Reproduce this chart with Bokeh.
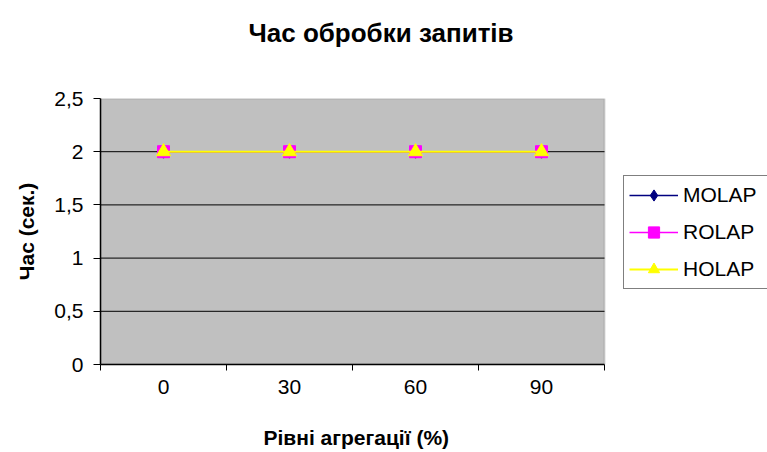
import numpy as np
from bokeh.plotting import figure
from bokeh.models import (Range1d, LinearAxis, FixedTicker, CustomJSTickFormatter,
                          Legend, Title, BoxAnnotation)
from bokeh.embed import file_html
from bokeh.resources import INLINE

# ---- data ----
levels = ["0", "30", "60", "90"]          # Рівні агрегації (%)
molap = [2, 2, 2, 2]
rolap = [2, 2, 2, 2]
holap = [2, 2, 2, 2]
y_ticks = [0, 0.5, 1, 1.5, 2, 2.5]
grid_vals = [0.5, 1, 1.5, 2]
y_max = 2.5

FONT = "Liberation Sans"

# layout: frame spans x 100..767, the grey plotting area ends at 604 px
FRAME_LEFT, AREA_RIGHT, WIDTH = 100, 604, 767
n = len(levels)
x_end = n * (WIDTH - FRAME_LEFT) / (AREA_RIGHT - FRAME_LEFT)

xs = list(np.arange(n) + 0.5)

p = figure(width=WIDTH, height=452, output_backend="svg", toolbar_location=None,
           x_range=Range1d(0, x_end), y_range=Range1d(0, y_max),
           x_axis_location=None, y_axis_location=None,
           min_border_left=FRAME_LEFT, min_border_right=0,
           min_border_top=98, min_border_bottom=88)

p.background_fill_color = "white"
p.border_fill_color = "white"
p.outline_line_color = None
p.xgrid.grid_line_color = None
p.ygrid.grid_line_color = None

# grey plotting area with its grey frame
p.add_layout(BoxAnnotation(left=0, right=n, bottom=0, top=y_max,
                           fill_color="#C0C0C0", fill_alpha=1,
                           line_color="#808080", line_width=2, level="underlay"))

# horizontal grid lines, limited to the plotting area
p.segment(x0=[0] * len(grid_vals), x1=[n] * len(grid_vals), y0=grid_vals, y1=grid_vals,
          line_color="black", line_width=1)

# y axis
yax = LinearAxis(ticker=FixedTicker(ticks=y_ticks, minor_ticks=[]),
                 formatter=CustomJSTickFormatter(code="return tick.toString().replace('.', ',')"))
yax.axis_line_color = "black"
yax.axis_line_width = 1.5
yax.major_tick_out = 7
yax.major_tick_in = 0
yax.major_tick_line_color = "black"
yax.major_label_text_font = FONT
yax.major_label_text_font_size = "21px"
yax.major_label_text_color = "black"
yax.major_label_standoff = 10
yax.axis_label = "Час (сек.)"
yax.axis_label_text_font = FONT
yax.axis_label_text_font_style = "bold"
yax.axis_label_text_font_size = "21px"
yax.axis_label_text_color = "black"
yax.axis_label_standoff = 13
p.add_layout(yax, "left")

# x axis (limited to the plotting area)
xax = LinearAxis(ticker=FixedTicker(ticks=xs, minor_ticks=list(range(n + 1))),
                 formatter=CustomJSTickFormatter(args=dict(labels=levels),
                                                 code="return labels[Math.floor(tick)]"),
                 bounds=(0, n))
xax.axis_line_color = "black"
xax.axis_line_width = 1.5
xax.major_tick_out = 0
xax.major_tick_in = 0
xax.minor_tick_out = 6
xax.minor_tick_in = 0
xax.minor_tick_line_color = "black"
xax.major_label_text_font = FONT
xax.major_label_text_font_size = "21px"
xax.major_label_text_color = "black"
xax.major_label_standoff = 9
p.add_layout(xax, "below")

# x axis title below the axis (spacer first, nearest the axis)
p.add_layout(Title(text=" ", text_font_size="1px", standoff=26), "below")
p.add_layout(Title(text="Рівні агрегації (%)", align="left", offset=163,
                   vertical_align="top", standoff=0,
                   text_font=FONT, text_font_style="bold", text_font_size="21px",
                   text_color="black"), "below")

# series
series = [("MOLAP", molap, "#000080", "diamond", 13, 1.5),
          ("ROLAP", rolap, "#FF00FF", "square", 12, 1.5),
          ("HOLAP", holap, "#FFFF00", "triangle", 14, 2)]
items = []
for name, vals, col, mk, sz, lw in series:
    r1 = p.line(xs, vals, line_color=col, line_width=lw)
    r2 = p.scatter(xs, vals, marker=mk, size=sz, fill_color=col, line_color=col)
    items.append((name, [r1, r2]))

legend = Legend(items=items, location=(523, 75))
legend.border_line_color = "black"
legend.border_line_width = 1
legend.background_fill_color = "white"
legend.background_fill_alpha = 1
legend.label_text_font = FONT
legend.label_text_font_size = "21px"
legend.label_text_color = "black"
legend.glyph_width = 49
legend.glyph_height = 28
legend.label_height = 28
legend.label_width = 90
legend.label_standoff = 5
legend.spacing = 9
legend.padding = 5
legend.margin = 0
p.add_layout(legend)

# title: spacer (nearest the frame) then the visible title
p.add_layout(Title(text=" ", text_font_size="12px", standoff=35), "above")
p.add_layout(Title(text="Час обробки запитів", align="left", offset=148,
                   vertical_align="bottom", standoff=0,
                   text_font=FONT, text_font_style="bold", text_font_size="26px",
                   text_color="black"), "above")

open("out.html", "w").write(file_html(p, INLINE))
